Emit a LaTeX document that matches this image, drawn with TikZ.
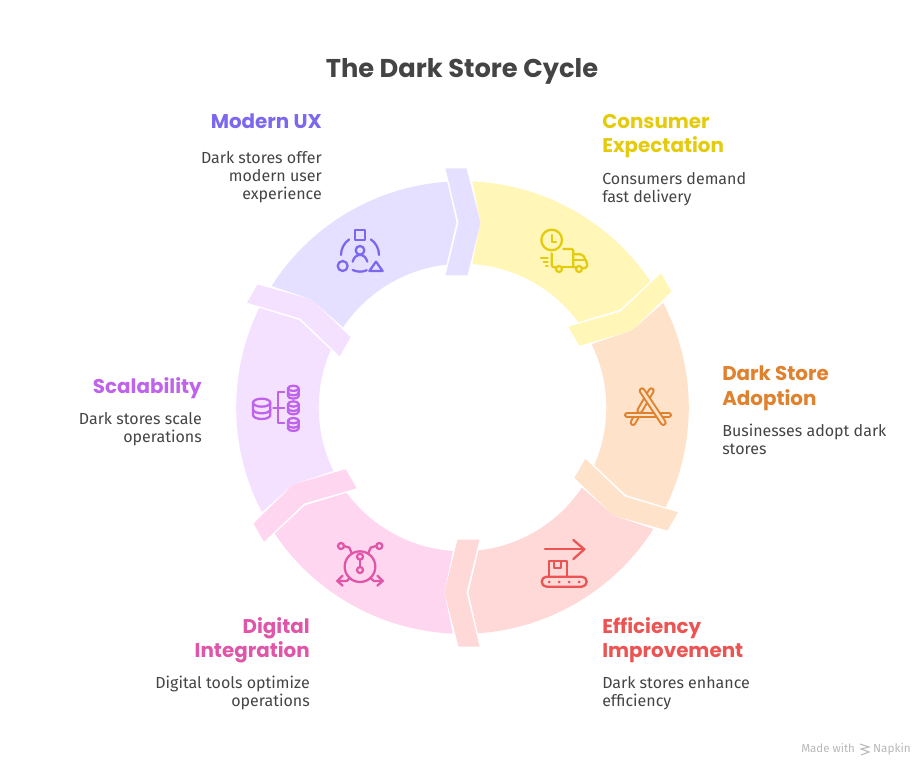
\documentclass[tikz,border=0pt]{standalone}
\usepackage{fontspec}
\setmainfont{Fira Sans}
\newfontfamily\headfont{Poppins}
\definecolor{inkT}{HTML}{444444}
\definecolor{cP}{HTML}{7B68EE}\definecolor{bP}{HTML}{E5E0FF}
\definecolor{cY}{HTML}{E5CB0E}\definecolor{bY}{HTML}{FFF6B8}
\definecolor{cO}{HTML}{E0812E}\definecolor{bO}{HTML}{FFE2CA}
\definecolor{cR}{HTML}{EC5454}\definecolor{bR}{HTML}{FFD8D8}
\definecolor{cK}{HTML}{E055A8}\definecolor{bK}{HTML}{FFD6F0}
\definecolor{cL}{HTML}{BF63EC}\definecolor{bL}{HTML}{F4E0FF}
\newcommand\segbody{(-87.53:226.3) -- (18,-185.3) -- (-86.13:143.8) arc[start angle=-86.13,end angle=-36.38,radius=143.8] -- (-31.85:185.4) -- (-33.88:226.3) arc[start angle=-33.88,end angle=-87.53,radius=226.3] -- cycle}
\newcommand\segtab{(-17,-239) -- (4,-239) -- (18,-185) -- (5,-132) -- (-17,-132) -- (-4,-185) -- cycle}
\newcommand\cyl[5]{\draw (#1,#2) ellipse [x radius=#4,y radius=#5];
 \draw (#1-#4,#2) -- (#1-#4,#3) arc[start angle=180,end angle=0,x radius=#4,y radius=#5] -- (#1+#4,#2);}
\newcommand\bandarc[4]{\draw (#1-#3,#2) arc[start angle=180,end angle=0,x radius=#3,y radius=#4];}
\newcommand\barstroke[3]{\draw[line width=5pt,color=#3,line cap=round] #1 -- #2;\draw[line width=2pt,color=bO,line cap=round] #1 -- #2;}
\tikzset{
  icon/.style={line width=1.7pt,line cap=round,line join=round,fill=none},
  head/.style={font=\headfont\fontsize{14.9}{18}\selectfont\bfseries,inner sep=0pt},
  desc/.style={font=\fontsize{12}{13.5}\selectfont,text=inkT,inner sep=0pt},
}
\begin{document}
\begin{tikzpicture}[x=.75pt,y=-.75pt]
\useasboundingbox (0,0) rectangle (924,766);
\begin{scope}[shift={(462.5,407.5)}]
 \foreach \k/\c in {0/bY,1/bO,2/bR,3/bK,4/bL,5/bP}{
  \begin{scope}[rotate=-60*\k]
   \fill[\c] \segbody;
  \end{scope}
  \begin{scope}[rotate=-60*\k-60]
   \fill[\c] \segtab;
  \end{scope}
 }
\end{scope}
% icon: modern UX
\begin{scope}[shift={(330,225)},x=.25pt,y=-.25pt,icon,draw=cP]
 \draw (74,16) rectangle (106,46);
 \draw (90,76) circle[radius=13];
 \draw (68,110) .. controls (72,96) and (80,90) .. (90,90) .. controls (100,90) and (108,96) .. (112,110);
 \draw (90,90)+(235:57) arc[start angle=235,end angle=180,radius=57];
 \draw (90,90)+(-55:57) arc[start angle=-55,end angle=0,radius=57];
 \draw (90,90)+(116:50) arc[start angle=116,end angle=66,radius=50];
 \draw (38,123) circle[radius=15];
 \draw (138,110) -- (118,138) -- (158,138) -- cycle;
\end{scope}
% icon: truck
\begin{scope}[shift={(535,225)},x=.25pt,y=-.25pt,icon,draw=cY]
 \draw (50,45) circle[radius=31];
 \draw (50,30) -- (50,52) -- (63,52);
 \draw[rounded corners=1.5pt] (85,72) -- (115,72) -- (115,127);
 \draw[rounded corners=2pt] (50,85) -- (50,127) -- (62,127);
 \draw (82,127) -- (122,127);
 \draw (72,132) circle[radius=9];
 \draw (132,132) circle[radius=9];
 \draw[rounded corners=1.5pt] (115,88) -- (143,88) -- (157,115) -- (157,128) -- (142,130);
 \draw (115,105) -- (150,105);
 \draw (18,100) -- (38,100);
 \draw (26,112) -- (38,112);
 \draw (33,124) -- (38,124);
\end{scope}
% icon: app
\begin{scope}[shift={(618,380)},x=.25pt,y=-.25pt]
 \barstroke{(45,128)}{(55,110)}{cO}
 \barstroke{(100,32)}{(65,92)}{cO}
 \barstroke{(28,105)}{(152,105)}{cO}
 \barstroke{(72,32)}{(136,128)}{cO}
\end{scope}
% icon: conveyor
\begin{scope}[shift={(535,535)},x=.25pt,y=-.25pt,icon,draw=cR]
 \draw (30,43) -- (148,43);
 \draw (115,15) -- (148,43) -- (115,72);
 \draw (42,125) -- (42,78) -- (96,78) -- (96,125);
 \draw (58,78) -- (58,98) -- (78,98) -- (78,78);
 \draw[rounded corners=3.7pt] (20,125) rectangle (155,155);
 \foreach \x in {42,72,102,132}{\fill[cR] (\x,141) circle[radius=4.5];}
\end{scope}
% icon: digital
\begin{scope}[shift={(330,535)},x=.25pt,y=-.25pt,icon,draw=cK]
 \draw (90,95) circle[radius=46];
 \draw (90,65) circle[radius=9];
 \draw (90,105) circle[radius=9];
 \draw (90,74) -- (90,96);
 \draw (33,33) circle[radius=9];
 \draw (148,33) circle[radius=9];
 \draw (42,33) -- (58,38) -- (65,54);
 \draw (138,33) -- (122,38) -- (115,54);
 \draw (60,128) -- (50,138) -- (22,138);
 \draw (38,122) -- (22,138) -- (38,152);
 \draw (120,128) -- (132,138) -- (158,138);
 \draw (142,122) -- (158,138) -- (142,152);
\end{scope}
% icon: databases
\begin{scope}[shift={(245,380)},x=.25pt,y=-.25pt,icon,draw=cL]
 \cyl{50}{68}{105}{26}{12}
 \bandarc{50}{88}{26}{12}
 \cyl{145}{25}{48}{16}{8}
 \cyl{145}{72}{95}{16}{8}
 \cyl{145}{122}{145}{16}{8}
 \bandarc{145}{38}{16}{8}
 \bandarc{145}{85}{16}{8}
 \bandarc{145}{135}{16}{8}
 \draw (118,35) -- (100,35) -- (100,130) -- (118,130);
 \draw (85,85) -- (118,85);
\end{scope}
% texts
\node[font=\headfont\fontsize{19.3}{23}\selectfont\bfseries,text=inkT,inner sep=0pt,anchor=base] (title) at (462,78) {The Dark Store Cycle};
\node[head,text=cP,anchor=base east] (h1) at (322,129) {Modern UX};
\node[desc,anchor=base east,align=right] (d1) at (322,199.5) {Dark stores offer\\modern user\\experience};
\node[head,text=cY,anchor=base west,align=left] (h2) at (602,153) {Consumer\\Expectation};
\node[desc,anchor=base west,align=left] (d2) at (602,202.5) {Consumers demand\\fast delivery};
\node[head,text=cO,anchor=base west,align=left] (h3) at (722,405) {Dark Store\\Adoption};
\node[desc,anchor=base west,align=left] (d3) at (722,454) {Businesses adopt dark\\stores};
\node[head,text=cR,anchor=base west,align=left] (h4) at (602,657) {Efficiency\\Improvement};
\node[desc,anchor=base west,align=left] (d4) at (602,706) {Dark stores enhance\\efficiency};
\node[head,text=cK,anchor=base east,align=right] (h5) at (310,657) {Digital\\Integration};
\node[desc,anchor=base east,align=right] (d5) at (310,706) {Digital tools optimize\\operations};
\node[head,text=cL,anchor=base east] (h6) at (202,393) {Scalability};
\node[desc,anchor=base east,align=right] (d6) at (202,442) {Dark stores scale\\operations};
\node[font=\fontsize{8.6}{10}\selectfont,text=black!28,inner sep=0pt,anchor=base west] (m1) at (801,752) {Made with};
\node[font=\fontsize{8.8}{10}\selectfont,text=black!28,inner sep=0pt,anchor=base east] (m2) at (911,752) {Napkin};
\draw[black!28,line width=.8pt] (860,744) -- (869,747) -- (861,749) -- (869,752) -- (861,755);
\end{tikzpicture}
\end{document}
